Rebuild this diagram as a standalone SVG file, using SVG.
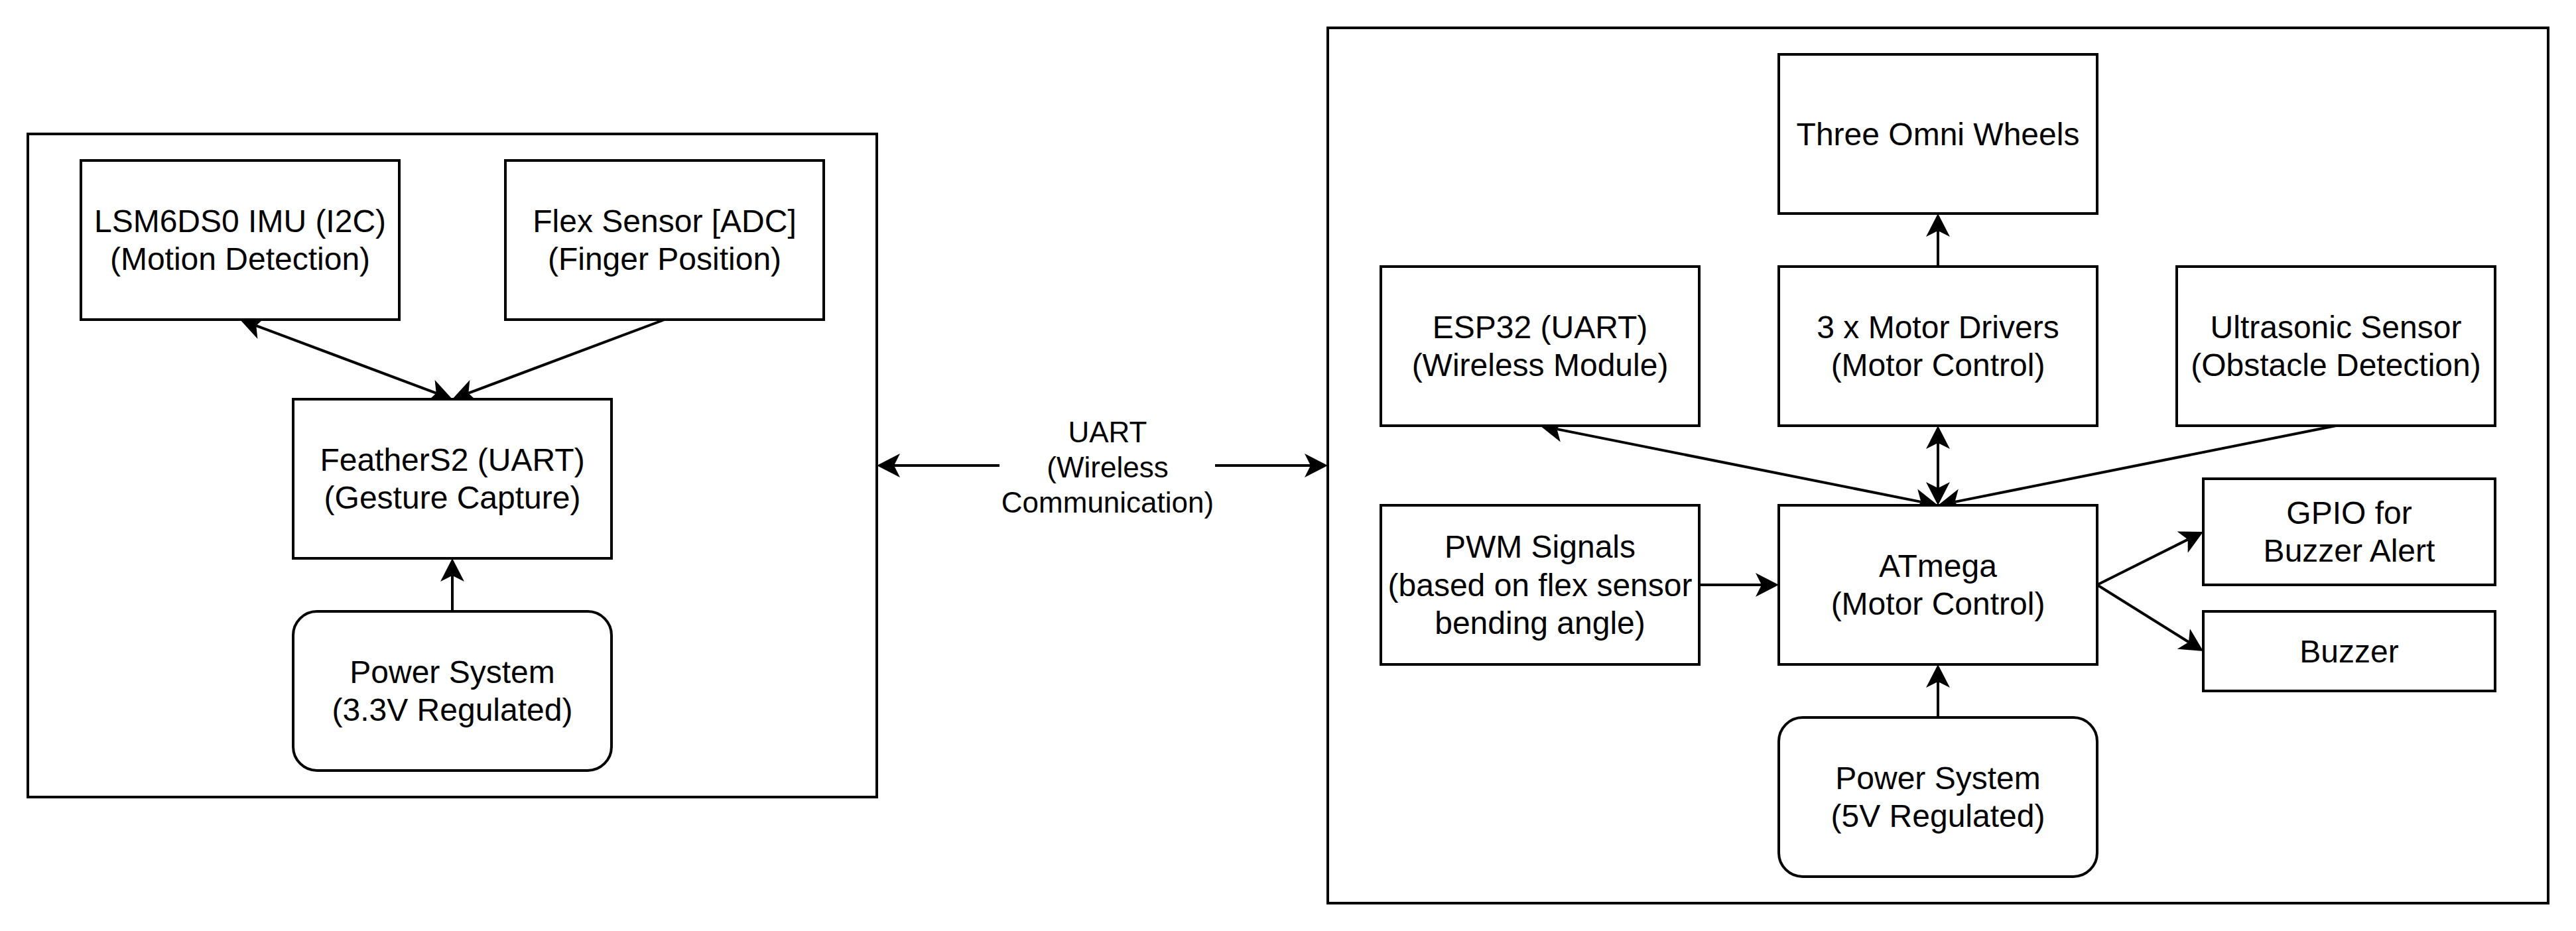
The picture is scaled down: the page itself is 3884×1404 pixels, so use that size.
<svg xmlns="http://www.w3.org/2000/svg" width="3884" height="1404" viewBox="0 0 3884 1404">
<style>
.box{fill:#ffffff;stroke:#000000;stroke-width:4}
.cont{fill:none;stroke:#000000;stroke-width:4}
.lbl{font-family:"Liberation Sans",Arial,Helvetica,sans-serif;font-size:48px;fill:#000000;text-anchor:middle}
.elbl{font-family:"Liberation Sans",Arial,Helvetica,sans-serif;font-size:44px;fill:#000000;text-anchor:middle}
.edge{fill:none;stroke:#000000;stroke-width:4}
.a1{marker-end:url(#arr)}
.a2{marker-start:url(#arr);marker-end:url(#arr)}
</style>
<defs>
<marker id="arr" viewBox="0 -19 36 38" markerWidth="36" markerHeight="38" refX="9" refY="0" markerUnits="userSpaceOnUse" orient="auto-start-reverse">
<path d="M0,-18 L35,0 L0,18 L9,0 Z" fill="#000000" stroke="none"/>
</marker>
</defs>
<rect x="0" y="0" width="3884" height="1404" fill="#ffffff"/>
<g id="glove-container"><rect class="cont" x="42" y="202" width="1280" height="1000"/></g>
<g id="robot-container"><rect class="cont" x="2002" y="42" width="1840" height="1320"/></g>
<g id="connectors">
<path class="edge a2" d="M386.3,491.1 L657.7,592.9"/>
<path class="edge a1" d="M1002,482 L706.3,592.9"/>
<path class="edge a1" d="M682,922 L682,868"/>
<path class="edge a2" d="M1348,702 L1976,702"/>
<path class="edge a1" d="M2922,402 L2922,348"/>
<path class="edge a2" d="M2922,736 L2922,668"/>
<path class="edge a2" d="M2347.5,647.1 L2896.5,756.9"/>
<path class="edge a1" d="M3522,642 L2947.5,756.9"/>
<path class="edge a1" d="M2562,882 L2656,882"/>
<path class="edge a1" d="M3162,882 L3298.7,813.6"/>
<path class="edge a1" d="M3162,882 L3300,968.2"/>
<path class="edge a1" d="M2922,1082 L2922,1028"/>
<g id="uart-label">
<rect x="1507" y="628" width="325" height="160" fill="#ffffff"/>
<text class="elbl"><tspan x="1670" y="667">UART</tspan><tspan x="1670" y="719.8">(Wireless</tspan><tspan x="1670" y="772.6">Communication)</tspan></text>
</g>
</g>
<g id="imu"><rect class="box" x="122" y="242" width="480" height="240"/><text class="lbl"><tspan x="362" y="349.8">LSM6DS0 IMU (I2C)</tspan><tspan x="362" y="407.4">(Motion Detection)</tspan></text></g>
<g id="flex"><rect class="box" x="762" y="242" width="480" height="240"/><text class="lbl"><tspan x="1002" y="349.8">Flex Sensor [ADC]</tspan><tspan x="1002" y="407.4">(Finger Position)</tspan></text></g>
<g id="feather"><rect class="box" x="442" y="602" width="480" height="240"/><text class="lbl"><tspan x="682" y="709.8">FeatherS2 (UART)</tspan><tspan x="682" y="767.4">(Gesture Capture)</tspan></text></g>
<g id="power-glove"><rect class="box" x="442" y="922" width="480" height="240" rx="36" ry="36"/><text class="lbl"><tspan x="682" y="1029.8">Power System</tspan><tspan x="682" y="1087.4">(3.3V Regulated)</tspan></text></g>
<g id="omni"><rect class="box" x="2682" y="82" width="480" height="240"/><text class="lbl"><tspan x="2922" y="218.6">Three Omni Wheels</tspan></text></g>
<g id="esp32"><rect class="box" x="2082" y="402" width="480" height="240"/><text class="lbl"><tspan x="2322" y="509.8">ESP32 (UART)</tspan><tspan x="2322" y="567.4">(Wireless Module)</tspan></text></g>
<g id="drivers"><rect class="box" x="2682" y="402" width="480" height="240"/><text class="lbl"><tspan x="2922" y="509.8">3 x Motor Drivers</tspan><tspan x="2922" y="567.4">(Motor Control)</tspan></text></g>
<g id="ultrasonic"><rect class="box" x="3282" y="402" width="480" height="240"/><text class="lbl"><tspan x="3522" y="509.8">Ultrasonic Sensor</tspan><tspan x="3522" y="567.4">(Obstacle Detection)</tspan></text></g>
<g id="pwm"><rect class="box" x="2082" y="762" width="480" height="240"/><text class="lbl"><tspan x="2322" y="841">PWM Signals</tspan><tspan x="2322" y="898.6">(based on flex sensor</tspan><tspan x="2322" y="956.2">bending angle)</tspan></text></g>
<g id="atmega"><rect class="box" x="2682" y="762" width="480" height="240"/><text class="lbl"><tspan x="2922" y="869.8">ATmega</tspan><tspan x="2922" y="927.4">(Motor Control)</tspan></text></g>
<g id="gpio"><rect class="box" x="3322" y="722" width="440" height="160"/><text class="lbl"><tspan x="3542" y="789.8">GPIO for</tspan><tspan x="3542" y="847.4">Buzzer Alert</tspan></text></g>
<g id="buzzer"><rect class="box" x="3322" y="922" width="440" height="120"/><text class="lbl"><tspan x="3542" y="998.6">Buzzer</tspan></text></g>
<g id="power-robot"><rect class="box" x="2682" y="1082" width="480" height="240" rx="36" ry="36"/><text class="lbl"><tspan x="2922" y="1189.8">Power System</tspan><tspan x="2922" y="1247.4">(5V Regulated)</tspan></text></g>
</svg>
